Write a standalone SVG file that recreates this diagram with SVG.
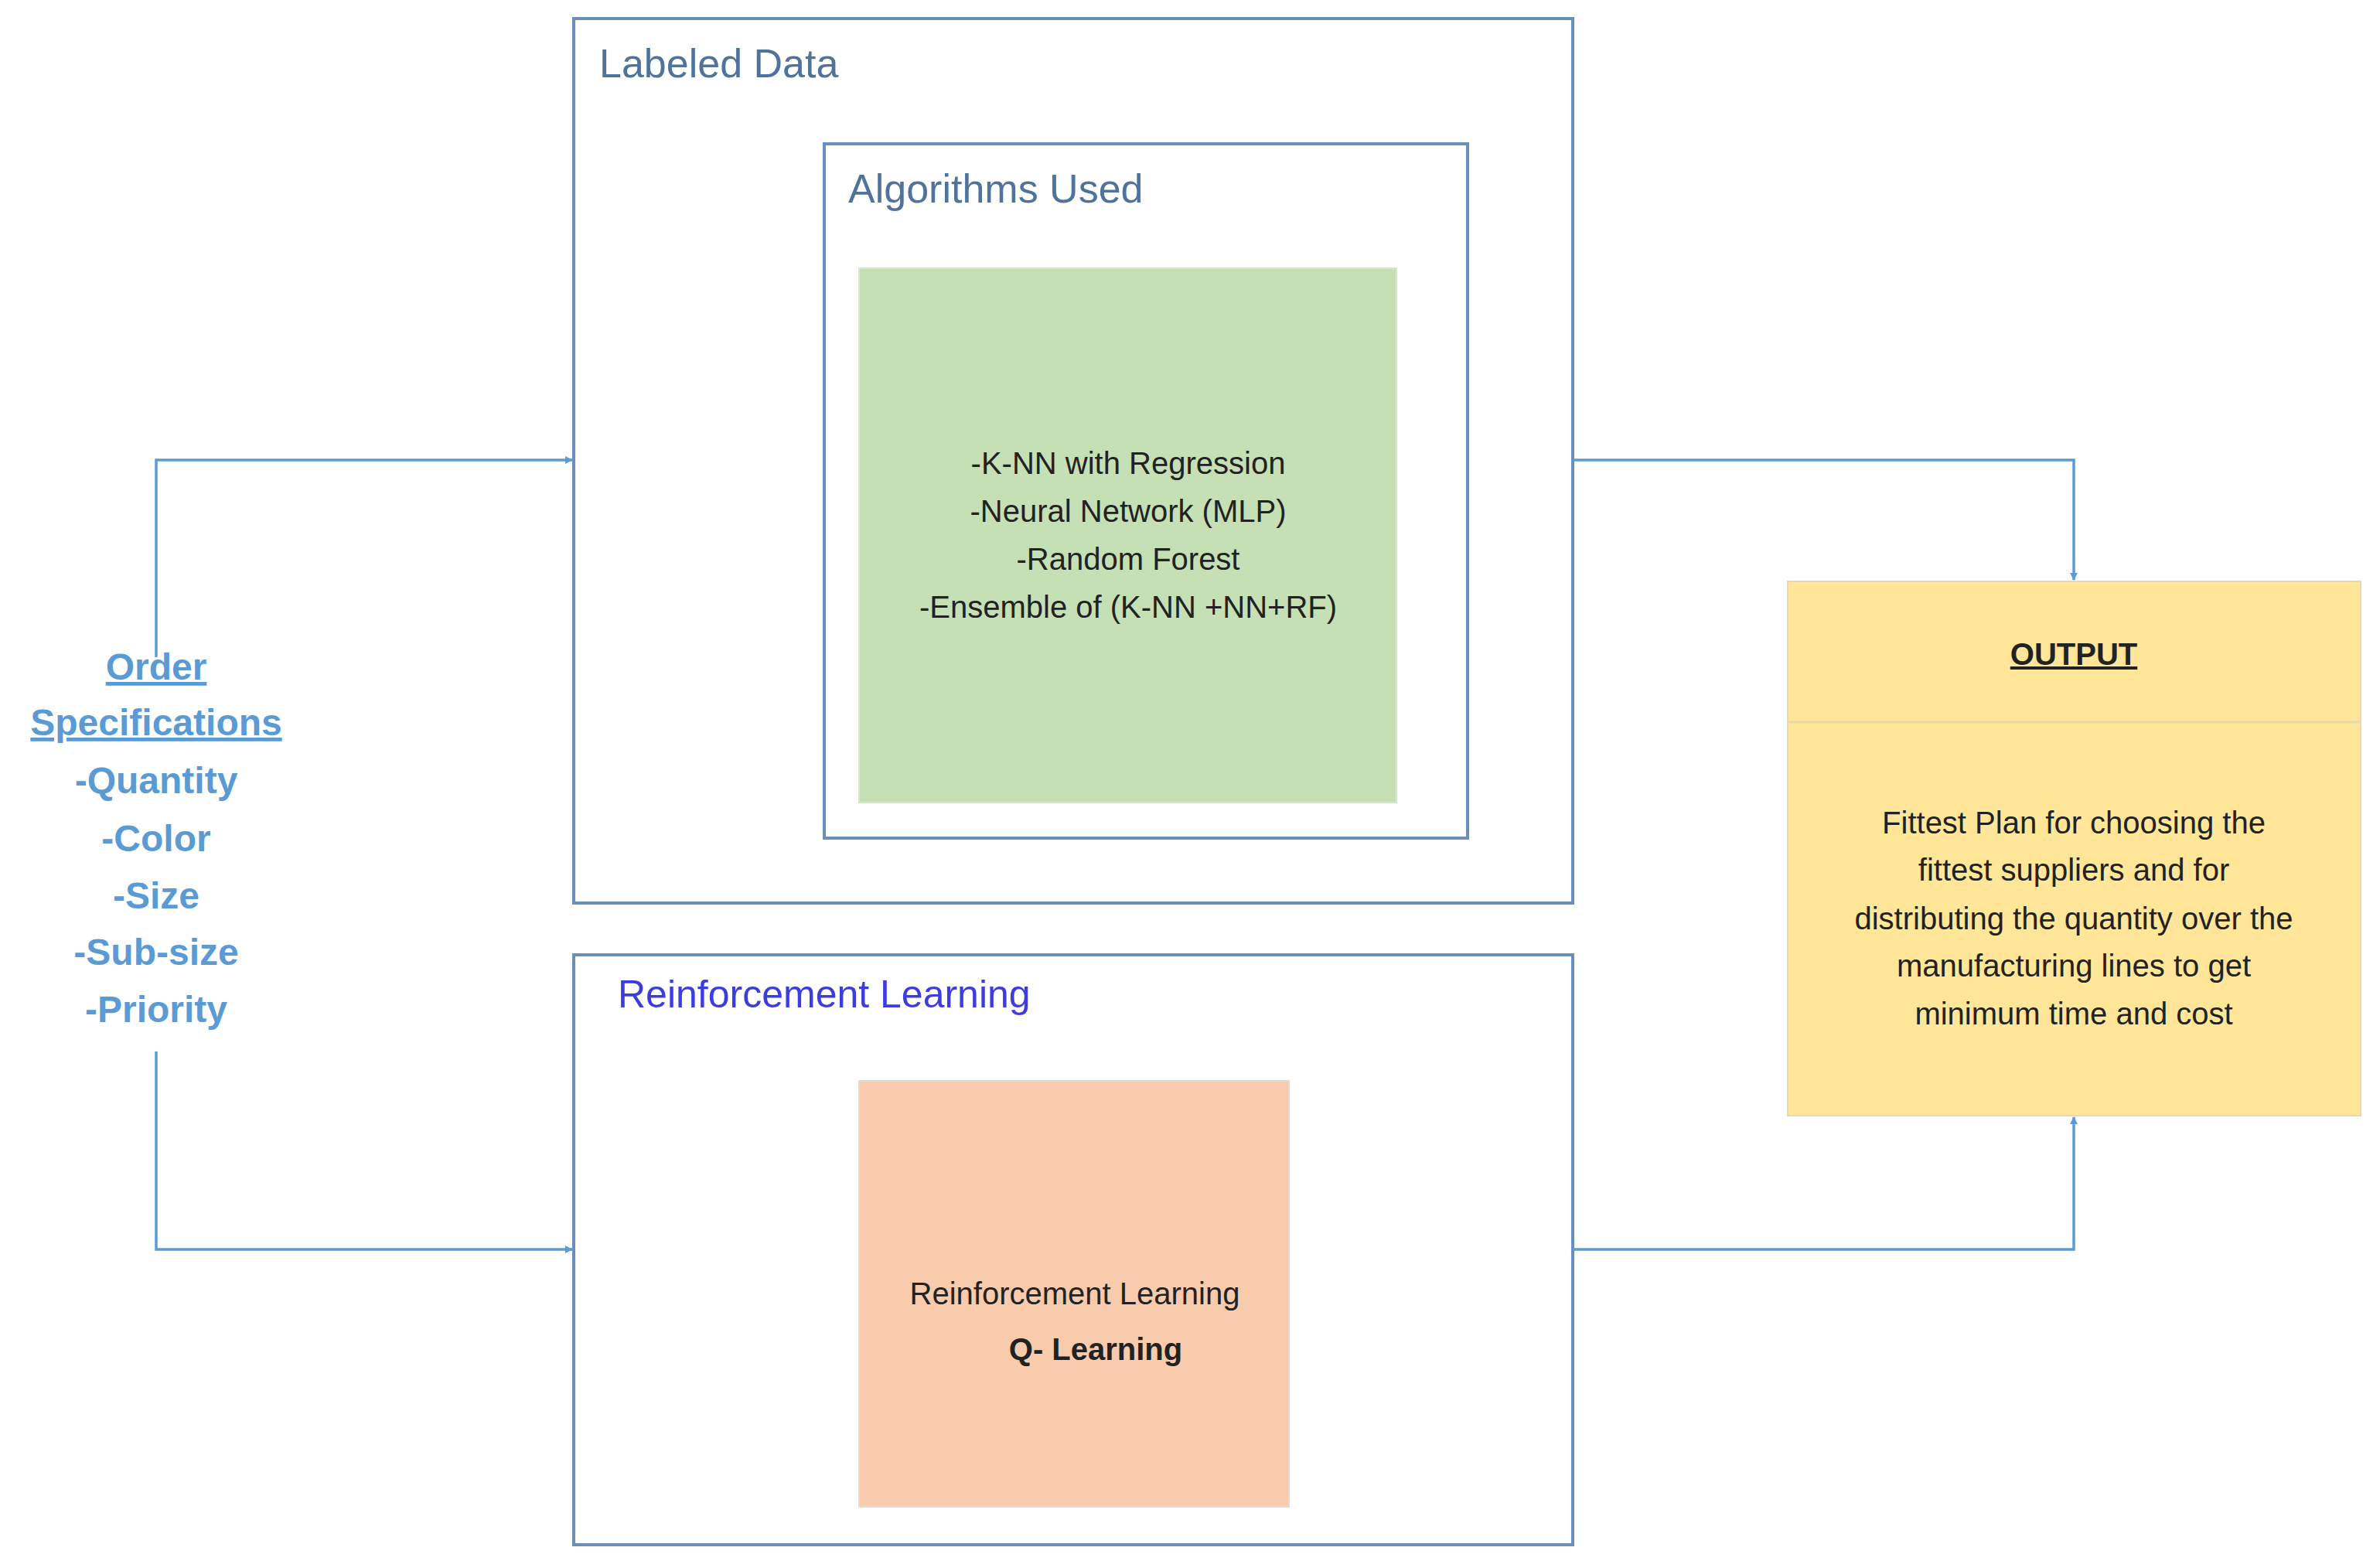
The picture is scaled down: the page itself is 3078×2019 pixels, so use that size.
<svg xmlns="http://www.w3.org/2000/svg" width="3078" height="2019" viewBox="0 0 3078 2019">
<defs>
<marker id="ah" markerWidth="10" markerHeight="10" refX="9" refY="5" orient="auto" markerUnits="userSpaceOnUse" viewBox="0 0 10 10"><path d="M0,0 L10,5 L0,10 z" fill="#5b9bd5"/></marker>
</defs>
<style>
.box{fill:#fff;stroke:#6a8fba;stroke-width:4}
.t{font-family:"Liberation Sans",Arial,sans-serif}
.title{font-size:52px;fill:#4f739b}
.body{font-size:40px;fill:#222;text-anchor:middle}
.spec{font-size:48px;fill:#5b9bd5;font-weight:bold;text-anchor:middle}
.con{fill:none;stroke:#5b9bd5;stroke-width:3.5}
</style>
<rect width="3078" height="2019" fill="#fff"/>
<g id="labeled">
<rect class="box" x="742" y="24" width="1292" height="1144"/>
<text class="t title" x="775" y="100">Labeled Data</text>
</g>
<g id="algorithms">
<rect class="box" x="1066" y="186" width="832" height="898"/>
<text class="t title" x="1097" y="262">Algorithms Used</text>
</g>
<g id="algo-list">
<rect x="1111" y="347" width="695" height="691" fill="#c5e0b4" stroke="#d8e6cf" stroke-width="2"/>
<text class="t body" x="1459" y="613">-K-NN with Regression</text>
<text class="t body" x="1459" y="675">-Neural Network (MLP)</text>
<text class="t body" x="1459" y="737">-Random Forest</text>
<text class="t body" x="1459" y="799">-Ensemble of (K-NN +NN+RF)</text>
</g>
<g id="rl">
<rect class="box" x="742" y="1235" width="1292" height="763"/>
<text class="t" x="799" y="1303" font-size="50" fill="#3c3ce0">Reinforcement Learning</text>
</g>
<g id="qlearning">
<rect x="1111" y="1398" width="556" height="551" fill="#f8cbad" stroke="#ead8cc" stroke-width="2"/>
<text class="t body" x="1390" y="1687">Reinforcement Learning</text>
<text class="t body" x="1417" y="1759" font-weight="bold">Q- Learning</text>
</g>
<g id="output">
<rect x="2312" y="752" width="741" height="691" fill="#ffe699" stroke="#e8d9a6" stroke-width="2"/>
<line x1="2312" y1="934" x2="3053" y2="934" stroke="#e8d9a6" stroke-width="3"/>
<text class="t body" x="2682" y="860" font-weight="bold" text-decoration="underline">OUTPUT</text>
<text class="t body" x="2682" y="1078">Fittest Plan for choosing the</text>
<text class="t body" x="2682" y="1139">fittest suppliers and for</text>
<text class="t body" x="2682" y="1202">distributing the quantity over the</text>
<text class="t body" x="2682" y="1263">manufacturing lines to get</text>
<text class="t body" x="2682" y="1325">minimum time and cost</text>
</g>
<g id="order">
<text class="t spec" x="202" y="879" text-decoration="underline">Order</text>
<text class="t spec" x="202" y="951" text-decoration="underline">Specifications</text>
<text class="t spec" x="202" y="1026">-Quantity</text>
<text class="t spec" x="202" y="1101">-Color</text>
<text class="t spec" x="202" y="1175">-Size</text>
<text class="t spec" x="202" y="1248">-Sub-size</text>
<text class="t spec" x="202" y="1322">-Priority</text>
</g>
<g id="connectors">
<path class="con" d="M202,850 V595 H740" marker-end="url(#ah)"/>
<path class="con" d="M202,1360 V1616 H740" marker-end="url(#ah)"/>
<path class="con" d="M2034,595 H2682 V750" marker-end="url(#ah)"/>
<path class="con" d="M2034,1616 H2682 V1445" marker-end="url(#ah)"/>
</g>
</svg>
